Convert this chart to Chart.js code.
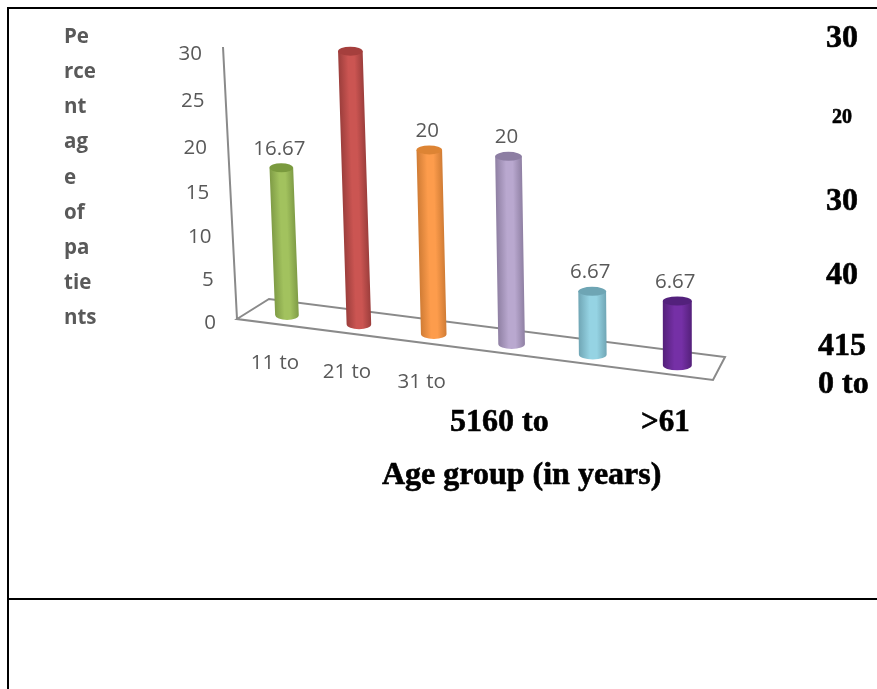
<!DOCTYPE html>
<html>
<head>
<meta charset="utf-8">
<title>Age group</title>
<script src="https://cdn.jsdelivr.net/npm/chart.js"></script>
<style>
  html, body { margin: 0; padding: 0; background: #fff; }
  canvas { display: block; }
</style>
</head>
<body>
<canvas id="ageChart" width="877" height="689"></canvas>
<script>
// categories and values
const categories = ['11 to', '21 to', '31 to', '', '', '']
const percentages = [16.67, 30, 20, 20, 6.67, 6.67]
const valueLabels = ['16.67', '', '20', '20', '6.67', '6.67']
const yTitleLines = ['Pe', 'rce', 'nt', 'ag', 'e', 'of', 'pa', 'tie', 'nts']

// bar colours: body, shaded edge, cap
const barColors = ['#a2c25e', '#cb5552', '#fd9c4c', '#b9a8cf', '#95d3e3', '#7530a6']
const edgeColors = ['#7f9c46', '#9c3e3c', '#d07c35', '#8f80a3', '#70a6b5', '#54207a']
const capColors = ['#7a9a3e', '#a53f3d', '#dd8434', '#8d7ea3', '#6ea5b4', '#53217c']

// loose bold text around the plot
const looseText = [
  { text: '30', x: 826, y: 47, size: 32 },
  { text: '20', x: 832, y: 123, size: 20 },
  { text: '30', x: 826, y: 210, size: 32 },
  { text: '40', x: 826, y: 284, size: 32 },
  { text: '415', x: 818, y: 355, size: 32 },
  { text: '0 to', x: 818, y: 393, size: 32 },
  { text: '5160 to', x: 450, y: 431, size: 32 },
  { text: '>61', x: 641, y: 431, size: 31 },
  { text: 'Age group (in years)', x: 382, y: 484, size: 32 }
]

// bar plane corners on the page, used to tilt the flat chart area
const plane = { bl: [252, 310.5], br: [721, 371], tl: [241, 45], tr: [722, 72] }
const floorEdges = [[237, 319], [269, 299], [725, 357], [713, 380]]
const yAxisTop = [223, 47]
const yAxisBottom = [237, 319]
const yAxisDepth = 0.065

function makeProjection(p) {
  const [x0, y0] = p.bl, [x1, y1] = p.br, [x2, y2] = p.tr, [x3, y3] = p.tl
  const dx1 = x1 - x2, dx2 = x3 - x2, sx = x0 - x1 + x2 - x3
  const dy1 = y1 - y2, dy2 = y3 - y2, sy = y0 - y1 + y2 - y3
  const det = dx1 * dy2 - dx2 * dy1
  const g = (sx * dy2 - dx2 * sy) / det
  const h = (dx1 * sy - sx * dy1) / det
  const a = x1 - x0 + g * x1, b = x3 - x0 + h * x3
  const d = y1 - y0 + g * y1, e = y3 - y0 + h * y3
  return (u, v) => {
    const w = g * u + h * v + 1
    return [(a * u + b * v + x0) / w, (d * u + e * v + y0) / w]
  }
}
const project = makeProjection(plane)

function toPage(chart, px, py) {
  const area = chart.chartArea
  return project((px - area.left) / area.width, (area.bottom - py) / area.height)
}

function drawCylinder(ctx, chart, bar, i) {
  const area = chart.chartArea
  const base = toPage(chart, bar.x, area.bottom)
  const top = toPage(chart, bar.x, bar.y)
  const left = toPage(chart, bar.x - bar.width / 2, area.bottom)
  const right = toPage(chart, bar.x + bar.width / 2, area.bottom)
  const halfW = (right[0] - left[0]) / 2
  const lean = (top[0] - base[0]) / (top[1] - base[1])

  ctx.save()
  // shear so the shading follows the lean of the bar
  ctx.transform(1, 0, lean, 1, -lean * base[1], 0)
  const cx = base[0]
  const grad = ctx.createLinearGradient(cx - halfW, 0, cx + halfW, 0)
  grad.addColorStop(0, edgeColors[i])
  grad.addColorStop(0.4, barColors[i])
  grad.addColorStop(0.65, barColors[i])
  grad.addColorStop(1, edgeColors[i])
  ctx.fillStyle = grad
  ctx.beginPath()
  ctx.moveTo(cx - halfW, top[1])
  ctx.lineTo(cx - halfW, base[1])
  ctx.ellipse(cx, base[1], halfW, 5, 0, Math.PI, 0, true)
  ctx.lineTo(cx + halfW, top[1])
  ctx.closePath()
  ctx.fill()
  ctx.fillStyle = capColors[i]
  ctx.beginPath()
  ctx.ellipse(cx, top[1], halfW, 4.5, 0, 0, Math.PI * 2)
  ctx.fill()
  ctx.restore()
}

const tiltedPlot = {
  id: 'tiltedPlot',
  beforeDatasetsDraw(chart) {
    const ctx = chart.ctx
    const area = chart.chartArea
    const yScale = chart.scales.y
    const xScale = chart.scales.x

    // page frame
    ctx.fillStyle = '#000'
    ctx.fillRect(7, 7, 870, 2)
    ctx.fillRect(7, 7, 2, 682)
    ctx.fillRect(7, 598, 870, 2)

    // floor and value axis
    ctx.strokeStyle = '#8a8a8a'
    ctx.lineWidth = 2
    ctx.beginPath()
    floorEdges.forEach((p, i) => i ? ctx.lineTo(p[0], p[1]) : ctx.moveTo(p[0], p[1]))
    ctx.closePath()
    ctx.moveTo(yAxisBottom[0], yAxisBottom[1])
    ctx.lineTo(yAxisTop[0], yAxisTop[1])
    ctx.stroke()

    // value ticks run up along the slanted axis, closing up slightly towards the floor
    ctx.fillStyle = '#595959'
    ctx.font = '20.5px "Open Sans"'
    ctx.textAlign = 'right'
    ctx.textBaseline = 'middle'
    yScale.ticks.forEach(t => {
      const flat = (area.bottom - yScale.getPixelForValue(t.value)) / area.height
      const f = flat * (1 - yAxisDepth) / (1 - yAxisDepth * flat)
      const x = yAxisBottom[0] + (yAxisTop[0] - yAxisBottom[0]) * f
      const y = yAxisBottom[1] + (yAxisTop[1] - yAxisBottom[1]) * f
      ctx.fillText(t.value, x - 21, y + 4 + 3 * f)
    })

    // category labels hang under the floor
    ctx.textAlign = 'center'
    categories.forEach((c, i) => {
      const p = toPage(chart, xScale.getPixelForValue(i), area.bottom)
      ctx.fillText(c, p[0] - 12, p[1] + 48)
    })

    // bars, drawn here in place of the flat rectangles
    const meta = chart.getDatasetMeta(0)
    meta.data.forEach((bar, i) => drawCylinder(ctx, chart, bar, i))

    // value labels above each cap
    ctx.fillStyle = '#595959'
    ctx.textAlign = 'center'
    ctx.font = '20.5px "Open Sans"'
    meta.data.forEach((bar, i) => {
      const top = toPage(chart, bar.x, bar.y)
      ctx.fillText(valueLabels[i], top[0] - 2, top[1] - 19)
    })

    // broken axis title
    ctx.textAlign = 'left'
    ctx.font = 'bold 20.5px "Open Sans"'
    yTitleLines.forEach((line, i) => ctx.fillText(line, 64, 37 + i * 35.2))

    ctx.fillStyle = '#000'
    ctx.strokeStyle = '#000'
    ctx.lineWidth = 0.6
    ctx.textBaseline = 'alphabetic'
    looseText.forEach(t => {
      ctx.font = 'bold ' + t.size + 'px "Liberation Serif"'
      ctx.fillText(t.text, t.x, t.y)
      ctx.strokeText(t.text, t.x, t.y)
    })
    return false
  }
}

new Chart(document.getElementById('ageChart'), {
  type: 'bar',
  data: {
    labels: categories,
    datasets: [{
      label: 'Percentage of patients',
      data: percentages,
      backgroundColor: barColors,
      categoryPercentage: 1,
      barPercentage: 0.335
    }]
  },
  options: {
    responsive: false,
    animation: false,
    layout: { padding: 20 },
    plugins: { legend: { display: false }, tooltip: { enabled: false } },
    scales: {
      x: { grid: { display: false }, border: { display: false }, ticks: { display: false } },
      y: {
        min: 0,
        max: 30,
        ticks: { display: false, stepSize: 5 },
        grid: { display: false },
        border: { display: false }
      }
    }
  },
  plugins: [tiltedPlot]
})
</script>
</body>
</html>
